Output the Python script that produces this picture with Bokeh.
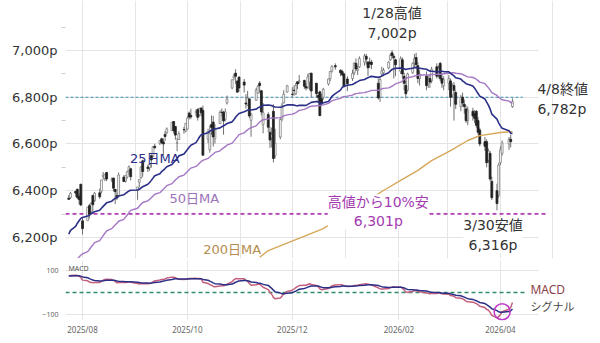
import numpy as np
import pandas as pd
from pandas.tseries.offsets import CustomBusinessDay
from bokeh.plotting import figure
from bokeh.layouts import column
from bokeh.models import (FixedTicker, Label, Range1d, Grid, DatetimeTickFormatter)
from bokeh.embed import file_html
from bokeh.resources import INLINE

# ---------------- data ----------------
hist_holidays = ["2025-05-26", "2025-06-19", "2025-07-04"]
holidays = ["2025-09-01", "2025-11-27", "2025-12-25", "2026-01-01",
            "2026-01-19", "2026-02-16", "2026-04-03"]

# closes before the window (May 12 - Jul 23 2025), used only for moving averages
hist_closes = [5844, 5886, 5892, 5917, 5958, 5964, 5940, 5845, 5842, 5802, 5922, 5889, 5912, 5912,
               5936, 5970, 5971, 5939, 6000, 6006, 6038, 6022, 6045, 5977, 6033, 5982, 5981, 5967,
               6025, 6092, 6092, 6141, 6173, 6205,
               6198, 6227, 6279, 6230, 6226, 6263, 6280, 6260, 6269, 6244, 6264, 6297, 6297, 6306,
               6309, 6359]

opens = [
    6368, 6370, 6397, 6406, 6375, 6428,
    6271, 6272, 6336, 6310, 6380, 6357, 6391, 6398, 6461, 6453, 6478, 6446, 6454, 6406, 6379, 6380, 6458, 6440, 6458, 6486, 6494,
    6401, 6436, 6456, 6528, 6501, 6498, 6550, 6547, 6590, 6603, 6622, 6609, 6641, 6649, 6657, 6696, 6675, 6604, 6619, 6662, 6656,
    6664, 6732, 6722, 6734, 6747, 6724, 6754, 6744, 6621, 6575, 6683, 6694, 6623, 6687, 6736, 6736, 6705, 6775, 6840, 6884, 6903, 6869, 6886,
    6865, 6775, 6766, 6793, 6701, 6787, 6817, 6860, 6828, 6683, 6726, 6650, 6626, 6740, 6550, 6630, 6706, 6776, 6822,
    6813, 6830, 6815, 6866, 6866, 6872, 6846, 6840, 6865, 6903, 6860, 6807, 6823, 6794, 6800, 6857, 6880, 6912, 6935, 6915, 6910, 6900,
    6878, 6880, 6905, 6945, 6915, 6930, 6950, 6975, 6950, 6950, 6950, 6860, 6800, 6900, 6905, 6925, 6960, 6990, 6975, 6960,
    6910, 6960, 6890, 6850, 6830, 6905, 6945, 6970, 6935, 6880, 6890, 6860, 6880, 6870, 6930, 6895, 6945, 6880, 6850,
    6860, 6870, 6810, 6850, 6820, 6760, 6800, 6770, 6750, 6700, 6740, 6730, 6740, 6700, 6660, 6610, 6610, 6530, 6560, 6440, 6400, 6380,
    6520, 6560, 6600, 6620, 6760]
highs = [
    6381, 6395, 6401, 6409, 6389, 6428,
    6288, 6330, 6344, 6351, 6381, 6395, 6409, 6446, 6480, 6473, 6481, 6457, 6456, 6407, 6394, 6478, 6466, 6466, 6486, 6508, 6495,
    6416, 6449, 6503, 6533, 6511, 6514, 6555, 6592, 6601, 6616, 6627, 6624, 6656, 6671, 6695, 6698, 6676, 6626, 6654, 6673, 6689,
    6718, 6739, 6751, 6749, 6753, 6754, 6755, 6764, 6665, 6680, 6722, 6720, 6684, 6744, 6752, 6742, 6752, 6807, 6875, 6901, 6920, 6873, 6890,
    6878, 6813, 6827, 6796, 6734, 6841, 6853, 6869, 6831, 6775, 6736, 6673, 6670, 6770, 6665, 6715, 6776, 6830, 6853,
    6843, 6851, 6862, 6867, 6895, 6875, 6862, 6900, 6903, 6905, 6860, 6822, 6828, 6815, 6840, 6880, 6912, 6937, 6945, 6920, 6918, 6905,
    6890, 6918, 6950, 6966, 6935, 6975, 6986, 6985, 6955, 6970, 6960, 6880, 6890, 6930, 6925, 6955, 6988, 7002, 6985, 6965,
    6975, 6970, 6905, 6870, 6905, 6950, 6985, 6990, 6950, 6915, 6910, 6895, 6900, 6930, 6945, 6935, 6950, 6900, 6890,
    6895, 6880, 6860, 6865, 6830, 6810, 6820, 6790, 6765, 6760, 6755, 6745, 6745, 6715, 6670, 6630, 6620, 6580, 6570, 6460, 6430, 6520,
    6590, 6615, 6630, 6640, 6795]
lows = [
    6360, 6366, 6375, 6365, 6342, 6334,
    6212, 6272, 6281, 6304, 6300, 6353, 6365, 6389, 6447, 6441, 6441, 6437, 6397, 6343, 6360, 6372, 6438, 6435, 6452, 6469, 6444,
    6361, 6414, 6450, 6460, 6480, 6485, 6499, 6545, 6579, 6595, 6600, 6551, 6612, 6643, 6656, 6645, 6618, 6569, 6617, 6644, 6650,
    6661, 6705, 6706, 6720, 6700, 6718, 6718, 6550, 6604, 6563, 6639, 6589, 6602, 6686, 6717, 6640, 6697, 6769, 6834, 6873, 6856, 6818, 6823,
    6820, 6751, 6762, 6710, 6631, 6787, 6816, 6818, 6722, 6646, 6650, 6583, 6585, 6521, 6539, 6620, 6697, 6773, 6820,
    6800, 6806, 6810, 6835, 6858, 6835, 6829, 6836, 6831, 6801, 6801, 6775, 6720, 6767, 6790, 6850, 6868, 6905, 6918, 6890, 6890, 6843,
    6826, 6870, 6895, 6912, 6895, 6925, 6935, 6940, 6890, 6925, 6920, 6790, 6780, 6890, 6890, 6920, 6955, 6965, 6880, 6890,
    6900, 6880, 6830, 6795, 6825, 6900, 6930, 6925, 6860, 6850, 6830, 6840, 6840, 6860, 6880, 6885, 6870, 6840, 6830,
    6830, 6760, 6800, 6700, 6750, 6740, 6760, 6730, 6690, 6680, 6700, 6690, 6670, 6640, 6590, 6570, 6500, 6520, 6440, 6360, 6316, 6370,
    6510, 6550, 6575, 6585, 6755]
closes = [
    6363, 6389, 6390, 6371, 6362, 6339,
    6238, 6330, 6299, 6345, 6340, 6389, 6374, 6446, 6466, 6469, 6450, 6449, 6411, 6396, 6370, 6467, 6440, 6465, 6481, 6502, 6460,
    6416, 6448, 6502, 6482, 6495, 6512, 6532, 6588, 6584, 6615, 6606, 6600, 6632, 6664, 6693, 6657, 6638, 6605, 6644, 6661, 6688,
    6711, 6715, 6716, 6740, 6714, 6753, 6735, 6552, 6654, 6644, 6671, 6630, 6664, 6735, 6735, 6699, 6738, 6792, 6875, 6891, 6890, 6822, 6840,
    6852, 6771, 6796, 6720, 6728, 6832, 6846, 6850, 6737, 6734, 6672, 6617, 6642, 6538, 6603, 6705, 6766, 6813, 6849,
    6812, 6829, 6850, 6857, 6870, 6847, 6840, 6887, 6901, 6827, 6816, 6800, 6721, 6775, 6834, 6878, 6910, 6932, 6930, 6905, 6896, 6845,
    6858, 6902, 6945, 6921, 6921, 6966, 6977, 6963, 6926, 6944, 6940, 6797, 6876, 6913, 6916, 6950, 6979, 6978, 6969, 6939,
    6965, 6900, 6860, 6815, 6900, 6945, 6965, 6940, 6880, 6900, 6850, 6880, 6865, 6920, 6890, 6925, 6880, 6860, 6875,
    6880, 6800, 6850, 6830, 6770, 6800, 6775, 6760, 6700, 6745, 6720, 6710, 6680, 6650, 6600, 6590, 6520, 6570, 6450, 6370, 6345, 6510,
    6575, 6605, 6620, 6610, 6782]

# 200-day moving average
ma200_dates = ["2025-11-12", "2025-11-17", "2025-12-03", "2025-12-19", "2026-01-23", "2026-02-02",
               "2026-02-12", "2026-02-20", "2026-03-03", "2026-03-13", "2026-03-20", "2026-04-01", "2026-04-08"]
ma200_values = [6115, 6144, 6191, 6238, 6401, 6444, 6487, 6529, 6572, 6615, 6636, 6649, 6653]

month_ticks = ["2025-08-01", "2025-10-01", "2025-12-01", "2026-02-01", "2026-04-01"]
price_ticks = [6200, 6400, 6600, 6800, 7000]
price_minor = [6100, 6300, 6500, 6700, 6900, 7100]
macd_ticks = [-100, 100]
support_level = 6800

# ---------------- derived ----------------
hist_dates = pd.date_range("2025-05-12", "2025-07-23", freq=CustomBusinessDay(holidays=hist_holidays))
dates = pd.date_range("2025-07-24", "2026-04-08", freq=CustomBusinessDay(holidays=holidays))
assert len(hist_dates) == len(hist_closes), (len(hist_dates), len(hist_closes))
assert len(dates) == len(closes) == len(opens) == len(highs) == len(lows)

all_close = pd.Series(hist_closes + closes, dtype=float)
n_hist = len(hist_closes)
ma25 = all_close.rolling(25).mean().iloc[n_hist:].to_numpy()
ma50 = all_close.rolling(50).mean().iloc[n_hist:].to_numpy()
ema12 = all_close.ewm(span=12, adjust=False).mean()
ema26 = all_close.ewm(span=26, adjust=False).mean()
macd_all = ema12 - ema26
signal_all = macd_all.ewm(span=9, adjust=False).mean()
macd = macd_all.iloc[n_hist:].to_numpy()
signal = signal_all.iloc[n_hist:].to_numpy()

o = np.array(opens, float); h = np.array(highs, float)
l = np.array(lows, float); c = np.array(closes, float)
up = c >= o

hi_i = int(np.argmax(h))
lo_i = hi_i + int(np.argmin(l[hi_i:]))          # low after the high
hi_val = h[hi_i]; lo_val = l[lo_i]
drop10 = np.floor(hi_val * 0.9)

# ---------------- layout constants ----------------
DAY = pd.Timedelta(days=1)
x0 = pd.Timestamp("2025-08-01") - 9.9 * DAY
x1 = pd.Timestamp("2025-08-01") + 301.2 * DAY
ms = lambda t: pd.Timestamp(t).value / 1e6
grid_end = dates[-1] + 15 * DAY
JP = "DejaVu Sans, Noto Sans CJK JP"
GRID = "#e4e4e4"

p = figure(width=600, height=258, x_axis_type="datetime", x_axis_location=None,
           x_range=Range1d(x0, x1), y_range=Range1d(7000 - 208 / 0.2337, 7214),
           output_backend="svg", toolbar_location=None,
           min_border_left=65, min_border_right=0, min_border_top=0, min_border_bottom=0)
p.outline_line_color = None
p.background_fill_color = "white"
p.add_layout(Grid(dimension=0, ticker=FixedTicker(ticks=[ms(t) for t in month_ticks]),
                  grid_line_color=GRID))
p.yaxis.ticker = FixedTicker(ticks=price_ticks, minor_ticks=price_minor)
p.yaxis.major_label_overrides = {t: f"{t:,}p" for t in price_ticks}
p.yaxis.axis_line_color = None
p.yaxis.major_tick_line_color = None
p.yaxis.minor_tick_line_color = "#cfcfcf"
p.yaxis.minor_tick_out = 4
p.yaxis.minor_tick_in = 0
p.yaxis.major_label_text_font = "DejaVu Sans"
p.yaxis.major_label_text_font_size = "13px"
p.yaxis.major_label_text_color = "#333333"
p.yaxis.major_label_standoff = 2
p.ygrid.grid_line_color = GRID
p.ygrid.cross_bounds = (ms(x0), ms(grid_end))

# reference lines
p.line([x0, dates[-1] + 6 * DAY], [support_level, support_level], color="#3d8db3",
       line_dash="3 2", line_width=1.2)
p.line([x0, dates[-1] + 21 * DAY], [drop10, drop10], color="#b23cb2",
       line_dash="4 3", line_width=1.6)

# candles
w = 1.1 * 24 * 3600 * 1000
p.segment(x0=dates, y0=l, x1=dates, y1=h, color="#707070", line_width=1)
p.vbar(x=dates[up], width=w, top=c[up], bottom=o[up], fill_color="white", line_color="#808080", line_width=0.8)
p.vbar(x=dates[~up], width=w, top=o[~up], bottom=c[~up], fill_color="#222222", line_color="#222222", line_width=0.8)

# moving averages
p.line(pd.to_datetime(ma200_dates), ma200_values, color="#d6a758", line_width=1.4)
p.line(dates, ma50, color="#a477c4", line_width=1.4)
p.line(dates, ma25, color="#2c2f88", line_width=1.6)

def lab(fig, **kw):
    d = dict(text_font=JP, text_font_size="14px", text_color="#333333")
    d.update(kw)
    fig.add_layout(Label(**d))

lab(p, x=dates[hi_i], y=hi_val, y_offset=9, text=f"{dates[hi_i].month}/{dates[hi_i].day}高値\n{int(hi_val):,}p",
    text_align="center", text_baseline="bottom", text_line_height=1.25)
lab(p, x=dates[-1], y=c[-1], x_offset=25, y_offset=2, text=f"{dates[-1].month}/{dates[-1].day}終値\n{int(c[-1]):,}p",
    text_align="left", text_baseline="middle", text_line_height=1.25)
lab(p, x=dates[lo_i], y=lo_val, y_offset=-7, x_offset=-4, text=f"{dates[lo_i].month}/{dates[lo_i].day}安値\n{int(lo_val):,}p",
    text_align="center", text_baseline="top", text_line_height=1.25,
    background_fill_color="white")
lab(p, x=pd.Timestamp("2026-01-20"), y=drop10, y_offset=2, text=f"高値から10%安\n{int(drop10):,}p",
    text_align="center", text_baseline="middle", text_line_height=1.2, text_color="#a33ab0",
    background_fill_color="white")
lab(p, x=pd.Timestamp("2025-09-12"), y=6540, text="25日MA", text_align="center", text_baseline="middle",
    text_font_size="13px", text_color="#2c2f88")
lab(p, x=pd.Timestamp("2025-10-05"), y=6365, text="50日MA", text_align="center", text_baseline="middle",
    text_font_size="13px", text_color="#9b72b8")
lab(p, x=pd.Timestamp("2025-10-27"), y=6150, text="200日MA", text_align="center", text_baseline="middle",
    text_font_size="13px", text_color="#b58c50")

# ---------------- MACD panel ----------------
q = figure(width=600, height=85, x_axis_type="datetime", x_range=p.x_range,
           y_range=Range1d(-127, 145.5), output_backend="svg", toolbar_location=None,
           min_border_left=65, min_border_right=0, min_border_top=2, min_border_bottom=23)
q.outline_line_color = None
q.xaxis.ticker = FixedTicker(ticks=[ms(t) for t in month_ticks])
q.xaxis.formatter = DatetimeTickFormatter(months="%Y/%m", days="%Y/%m", years="%Y/%m")
q.xaxis.axis_line_color = None
q.xaxis.major_tick_line_color = None
q.xaxis.minor_tick_line_color = None
q.xaxis.major_tick_out = 0
q.xaxis.minor_tick_out = 0
q.xaxis.major_label_text_font = "Noto Sans"
q.xaxis.major_label_text_font_size = "8px"
q.xaxis.major_label_text_color = "#666666"
q.xaxis.major_label_standoff = 3
q.xgrid.grid_line_color = GRID
q.yaxis.ticker = FixedTicker(ticks=macd_ticks)
q.yaxis.axis_line_color = None
q.yaxis.major_tick_line_color = None
q.yaxis.minor_tick_line_color = None
q.yaxis.major_label_text_font = "Noto Sans"
q.yaxis.major_label_text_font_size = "7px"
q.yaxis.major_label_text_color = "#666666"
q.yaxis.major_label_standoff = 1
q.ygrid.grid_line_color = GRID
q.ygrid.cross_bounds = (ms(x0), ms(grid_end))

q.line([x0, dates[-1] + 8 * DAY], [0, 0], color="#2e8b6a", line_dash="4 3", line_width=1.5)
q.line(dates, macd, color="#c45f7c", line_width=1.5)
q.line(dates, signal, color="#2c2f88", line_width=1.5)

lo_m = int(np.argmin(macd))
cross = lo_m + int(np.argmax(macd[lo_m:] > signal[lo_m:]))
q.scatter(x=[dates[cross]], y=[macd[cross]], size=16, marker="circle", fill_color=None,
          line_color="#c03cc8", line_width=1.6)

lab(q, x=x0, y=145.5, x_offset=3, y_offset=-3, text="MACD", text_font="Noto Sans",
    text_font_size="7px", text_color="#555555", text_baseline="top")
lab(q, x=x0, y=0, x_offset=-2, text="0p", text_font="DejaVu Serif", text_font_size="16px",
    text_color="#2e8b6a", text_align="right", text_baseline="middle")
lab(q, x=dates[-1], y=14, x_offset=18, text="MACD", text_font="Noto Sans", text_font_size="12px",
    text_color="#8b3f48", text_baseline="middle")
lab(q, x=dates[-1], y=-59, x_offset=18, text="シグナル", text_font="Noto Sans CJK JP", text_font_size="11px",
    text_color="#444444", text_baseline="middle")

layout = column(p, q, spacing=0)
open("out.html", "w").write(file_html(layout, INLINE))
